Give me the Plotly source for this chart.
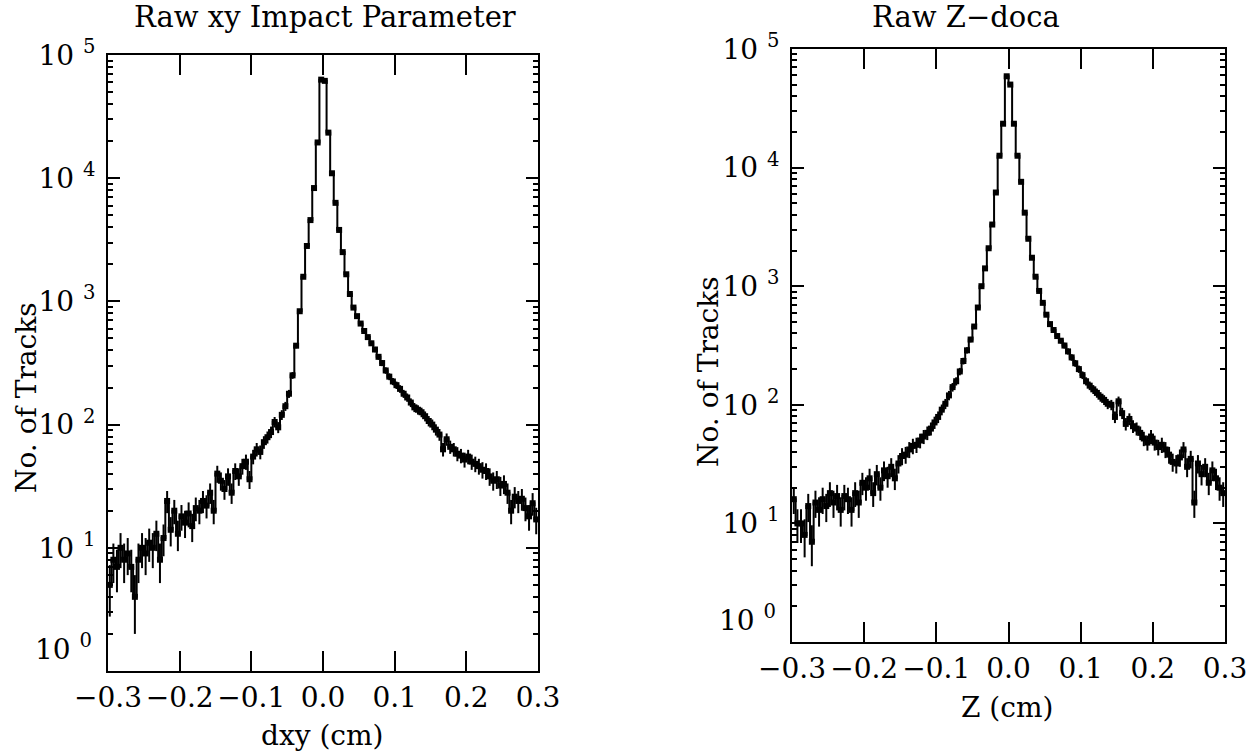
import numpy as np
import plotly.graph_objects as go

# ---------------- data ----------------
bin_lo, bin_hi, n_bins = -0.3, 0.3, 120

# Raw xy impact parameter, counts per bin (left panel)
dxy_counts = [
    5, 8, 7, 10, 8, 9, 7, 4, 8, 10,
    9, 11, 10, 13, 8, 12, 24, 14, 20, 13,
    18, 16, 19, 15, 21, 20, 24, 22, 28, 20,
    40, 35, 30, 38, 28, 42, 38, 46, 50, 36,
    55, 63, 60, 72, 79, 87, 105, 95, 120, 141,
    178, 251, 437, 832, 1585, 2818, 4571, 8318, 19498, 63096,
    61660, 23442, 10965, 6310, 3802, 2512, 1660, 1148, 891, 759,
    661, 575, 513, 457, 407, 355, 316, 275, 245, 224,
    209, 195, 178, 166, 151, 138, 132, 126, 117, 107,
    100, 91, 83, 63, 76, 66, 63, 58, 56, 52,
    55, 50, 48, 46, 43, 42, 38, 35, 36, 32,
    33, 28, 20, 26, 24, 25, 21, 18, 23, 17,
]

# Raw Z-doca, counts per bin (right panel)
zdoca_counts = [
    16, 10, 10, 8, 14, 7, 15, 13, 16, 14,
    18, 15, 17, 13, 17, 16, 13, 18, 15, 22,
    20, 24, 18, 26, 20, 28, 25, 30, 24, 32,
    37, 38, 42, 45, 46, 50, 54, 58, 63, 71,
    79, 91, 102, 120, 141, 158, 191, 234, 288, 355,
    457, 661, 1000, 1413, 2089, 3311, 6166, 12589, 23442, 58884,
    50119, 23442, 12589, 7586, 4169, 2512, 1738, 1202, 912, 724,
    575, 479, 427, 380, 347, 316, 282, 251, 224, 200,
    178, 158, 145, 135, 126, 117, 110, 102, 100, 79,
    107, 85, 69, 76, 66, 63, 58, 52, 48, 54,
    48, 44, 46, 42, 38, 33, 32, 36, 42, 30,
    35, 15, 32, 26, 30, 22, 28, 24, 20, 18,
]

x_tick_vals = [-0.3, -0.2, -0.1, 0.0, 0.1, 0.2, 0.3]
x_tick_text = ["\u22120.3", "\u22120.2", "\u22120.1", "0.0", "0.1", "0.2", "0.3"]
y_tick_vals = [1, 10, 100, 1000, 10000, 100000]
# the 10^0 label is drawn raised (as in the original), so its tick text is separate
y_tick_text = ["", "10 <sup>1</sup>", "10 <sup>2</sup>",
               "10 <sup>3</sup>", "10 <sup>4</sup>", "10 <sup>5</sup>"]
y_bottom_label = "10 <sup>0</sup>"
y_minor_vals = [k * 10 ** e for e in range(0, 5) for k in range(2, 10)]

titles = ["Raw xy Impact Parameter", "Raw Z\u2212doca"]
x_titles = ["dxy (cm)", "Z (cm)"]
y_title = "No. of Tracks"

# ---------------- figure ----------------
W, H = 1247, 754
FONT = "DejaVu Serif"

edges = np.linspace(bin_lo, bin_hi, n_bins + 1)
centers = 0.5 * (edges[:-1] + edges[1:])


def px_x(p):
    return p / W


def px_y(p):
    return 1 - p / H


panels = [
    dict(counts=dxy_counts, box=(108, 538, 55, 671),
         title_pos=(325, 17), xt_pos=(322, 735), yt_pos=(26, 398), y0_pos=(94, 647)),
    dict(counts=zdoca_counts, box=(792, 1225, 49, 642),
         title_pos=(966, 17), xt_pos=(1007, 707), yt_pos=(708, 372), y0_pos=(778, 618)),
]

fig = go.Figure()
annotations = []
for k, p in enumerate(panels):
    sfx = "" if k == 0 else str(k + 1)
    x0, x1, y0, y1 = p["box"]
    counts = np.array(p["counts"], dtype=float)
    step_y = np.append(counts, counts[-1])
    fig.add_trace(go.Scatter(
        x=edges, y=step_y, mode="lines", line=dict(shape="hv", color="black", width=2),
        xaxis="x" + sfx, yaxis="y" + sfx, showlegend=False, hoverinfo="skip"))
    fig.add_trace(go.Scatter(
        x=centers, y=counts, mode="markers",
        marker=dict(symbol="square", size=6, color="black"),
        error_y=dict(type="data", array=np.sqrt(counts), color="black", thickness=2, width=0),
        xaxis="x" + sfx, yaxis="y" + sfx, showlegend=False))

    common = dict(showline=True, linecolor="black", linewidth=2, mirror="ticks",
                  showgrid=False, zeroline=False, ticks="inside", tickwidth=2,
                  tickcolor="black", automargin=False, ticklabeloverflow="allow",
                  tickfont=dict(family=FONT, size=28, color="black"))
    fig.layout["xaxis" + sfx] = dict(
        domain=[px_x(x0), px_x(x1)], range=[bin_lo, bin_hi], anchor="y" + sfx,
        tickvals=x_tick_vals, ticktext=x_tick_text, ticklen=20, **common)
    fig.layout["yaxis" + sfx] = dict(
        domain=[px_y(y1), px_y(y0)], type="log", range=[0, 5], anchor="x" + sfx,
        tickvals=y_tick_vals, ticktext=y_tick_text, ticklen=12, ticklabelstandoff=5,
        minor=dict(ticks="inside", ticklen=5, tickwidth=1.5, tickcolor="black",
                   tickvals=y_minor_vals, showgrid=False),
        **common)

    tx, ty = p["title_pos"]
    annotations.append(dict(text=titles[k], x=px_x(tx), y=px_y(ty), xref="paper", yref="paper",
                            showarrow=False, xanchor="center", yanchor="middle",
                            font=dict(family=FONT, size=29, color="black")))
    tx, ty = p["xt_pos"]
    annotations.append(dict(text=x_titles[k], x=px_x(tx), y=px_y(ty), xref="paper", yref="paper",
                            showarrow=False, xanchor="center", yanchor="middle",
                            font=dict(family=FONT, size=28, color="black")))
    tx, ty = p["yt_pos"]
    annotations.append(dict(text=y_title, x=px_x(tx), y=px_y(ty), xref="paper", yref="paper",
                            showarrow=False, xanchor="center", yanchor="middle", textangle=-90,
                            font=dict(family=FONT, size=28, color="black")))
    tx, ty = p["y0_pos"]
    annotations.append(dict(text=y_bottom_label, x=px_x(tx), y=px_y(ty), xref="paper", yref="paper",
                            showarrow=False, xanchor="right", yanchor="middle",
                            font=dict(family=FONT, size=28, color="black")))

fig.update_layout(width=W, height=H, margin=dict(l=0, r=0, t=0, b=0, autoexpand=False),
                  paper_bgcolor="white", plot_bgcolor="white",
                  annotations=annotations)

fig.write_html("out.html", config={"displayModeBar": False},
               post_script="document.body.style.margin='0';document.body.style.overflow='hidden';")
